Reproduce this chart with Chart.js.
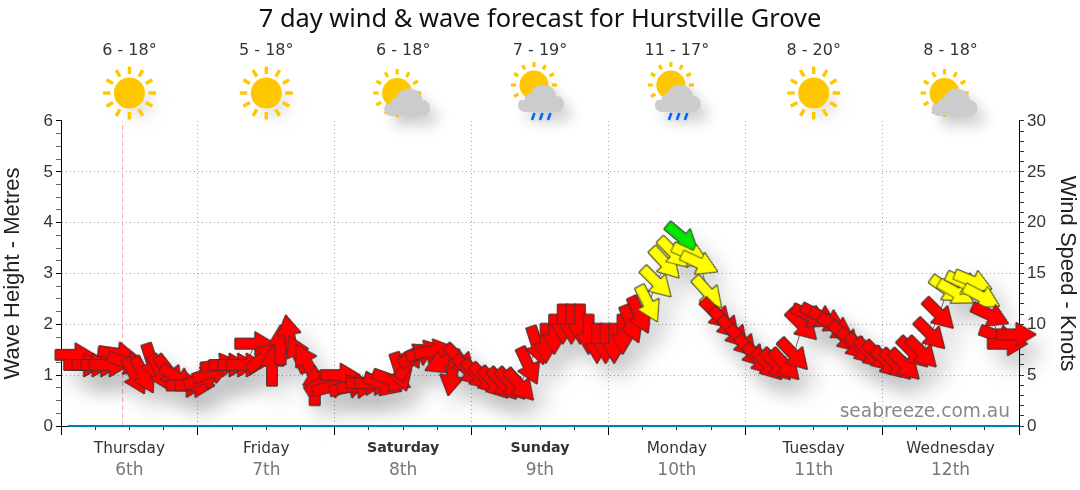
<!DOCTYPE html>
<html><head><meta charset="utf-8">
<script src="https://cdn.jsdelivr.net/npm/chart.js@4/dist/chart.umd.min.js"></script>
<style>html,body{margin:0;padding:0;background:#fff}canvas{display:block}</style>
</head><body><canvas id="c" width="1080" height="490"></canvas>
<script>
const titleText = "7 day wind & wave forecast for Hurstville Grove";
const dayNames = ["Thursday","Friday","Saturday","Sunday","Monday","Tuesday","Wednesday"];
const dayDates = ["6th","7th","8th","9th","10th","11th","12th"];
const dayBold = [false,false,true,true,false,false,false];
const tempLabels = ["6 - 18°","5 - 18°","6 - 18°","7 - 19°","11 - 17°","8 - 20°","8 - 18°"];
const iconTypes = ["sun","sun","cloud","rain","rain","sun","cloud"];
const noonHours = [12,36,60,84,108,132,156];
const dayHours = [0,24,48,72,96,120,144,168];
const nowHour = 10.8;
const waveHours = [1.2,168];
const waveMetres = [0,0];
const windHours = [2.5,4,5.5,7,8.5,10,11.5,13,14.5,16,17.5,19,20.5,22,23.5,25,26.5,28,29.5,31,32.5,34,35.5,37,38.5,40,41.5,43,44.5,46,47.5,49,50.5,52,53.5,55,56.5,58,59.5,61,62.5,64,65.5,67,68.5,70,71.5,73,74.5,76,77.5,79,80.5,82,83.5,85,86.5,88,89.5,91,92.5,94,95.5,97,98.5,100,101.5,103,104.5,106,107.5,109,110.5,112,113.5,115,116.5,118,119.5,121,122.5,124,125.5,127,128.5,130,131.5,133,134.5,136,137.5,139,140.5,142,143.5,145,146.5,148,149.5,151,152.5,154,155.5,157,158.5,160,161.5,163,164.5,166,167.5];
const windKnots = [7.0,6.0,6.0,6.0,6.0,7.1,6.2,4.9,5.0,6.2,5.2,5.3,4.7,4.0,4.0,4.7,5.3,6.0,6.0,6.0,6.0,8.1,6.8,5.9,8.0,9.0,7.1,6.3,4.0,4.4,3.9,5.0,3.9,3.9,4.2,4.2,4.1,4.5,5.3,6.3,7.0,7.3,7.4,6.3,4.9,6.5,5.4,5.0,4.6,4.2,4.1,4.1,4.0,5.9,7.9,8.1,9.0,10.0,10.0,10.0,9.0,8.1,8.1,8.1,9.0,10.0,10.9,12.0,14.1,16.0,17.0,18.5,16.8,16.0,13.1,11.0,10.1,9.2,8.3,7.3,6.5,6.0,6.0,6.0,7.0,9.9,10.8,10.8,10.4,9.7,8.7,8.0,7.5,7.1,6.8,6.2,6.0,6.0,7.2,7.2,9.0,11.0,13.4,13.1,14.0,14.2,12.7,10.9,8.8,8.1,9.0];
const windFromDeg = [270,270,270,270,270,278,290,332,332,342,332,322,302,270,270,250,250,262,270,270,270,270,230,180,180,170,155,150,180,238,255,270,255,265,270,270,290,290,342,212,242,255,260,65,10,315,315,315,315,318,318,318,318,335,342,0,0,0,0,0,0,0,0,0,0,338,335,333,315,317,315,310,295,295,318,315,317,318,318,318,317,317,317,317,317,315,295,298,298,302,315,315,315,315,315,315,315,315,315,315,315,315,305,300,295,292,298,295,290,270,270];

const FONT_TITLE = "'Noto Sans'";
const FONT_TXT = "'DejaVu Sans'";
const FONT_AX = "'Liberation Sans'";

function makeArrow(fill){
  const L=40,S=10.5,HW=24,HL=20,W=46,H=46;
  const c=document.createElement('canvas');c.width=W;c.height=H;
  const g=c.getContext('2d');g.translate(W/2,H/2);
  g.beginPath();
  g.moveTo(-L/2,-S/2);g.lineTo(L/2-HL,-S/2);g.lineTo(L/2-HL,-HW/2);g.lineTo(L/2,0);
  g.lineTo(L/2-HL,HW/2);g.lineTo(L/2-HL,S/2);g.lineTo(-L/2,S/2);g.closePath();
  g.fillStyle=fill;g.fill();g.lineWidth=0.8;g.strokeStyle='#333';g.stroke();
  return c;
}
const arrowRed=makeArrow('#ff0000'),arrowYellow=makeArrow('#ffff00'),arrowGreen=makeArrow('#00e600');
const arrowFor=k=>k>=18?arrowGreen:(k>=11.5?arrowYellow:arrowRed);
const windPoints=windHours.map((h,i)=>({x:h,y:windKnots[i]}));

function sun(g,x,y,r,r1,r2,w){
  g.fillStyle='#ffc800';g.beginPath();g.arc(x,y,r,0,Math.PI*2);g.fill();
  g.strokeStyle='#ffc800';g.lineWidth=w;
  for(let a=0;a<12;a++){const t=a*Math.PI/6;g.beginPath();
    g.moveTo(x+Math.cos(t)*r1,y+Math.sin(t)*r1);g.lineTo(x+Math.cos(t)*r2,y+Math.sin(t)*r2);g.stroke();}
}
function cloud(g,x,top){
  const b=top+27;
  g.fillStyle='#cccccc';g.beginPath();
  g.moveTo(x-16,b);
  g.arc(x-16,b-7,7,Math.PI*0.5,Math.PI*1.25);
  g.arc(x-10,b-12,6.5,Math.PI*1.0,Math.PI*1.5);
  g.arc(x+2,b-14,13.5,Math.PI*1.15,Math.PI*1.9);
  g.arc(x+15,b-8,8,Math.PI*1.5,Math.PI*0.5);
  g.closePath();g.fill();
}
const overlay={id:'overlay',
  beforeDatasetsDraw(chart){
    const g=chart.ctx,sx=chart.scales.x;
    iconTypes.forEach((t,i)=>{
      const x=sx.getPixelForValue(noonHours[i]);
      g.save();g.shadowColor='rgba(0,0,0,.1)';g.shadowBlur=14;g.shadowOffsetX=8;g.shadowOffsetY=10;
      if(t==='sun'){sun(g,x,93,15.5,19,26.5,3.4);}
      else if(t==='cloud'){sun(g,x-6,93,15,18.5,24,3.2);g.shadowColor='rgba(0,0,0,.18)';cloud(g,x+4,89);}
      else{sun(g,x-6,85,14.5,18,23,3.2);g.shadowColor='rgba(0,0,0,.18)';cloud(g,x+1,85);
        g.shadowColor='transparent';g.strokeStyle='#0066ff';g.lineWidth=2.6;
        [-7,1,9].forEach(dx=>{g.beginPath();g.moveTo(x+dx+1.5,113);g.lineTo(x+dx-1,120);g.stroke();});}
      g.restore();
    });
  },
  beforeDatasetDraw(chart,args){
    if(args.index===3){const g=chart.ctx;g.save();g.shadowColor='rgba(0,0,0,.17)';g.shadowBlur=24;g.shadowOffsetX=10;g.shadowOffsetY=14;}
  },
  afterDatasetDraw(chart,args){ if(args.index===3){chart.ctx.restore();} },
  afterDatasetsDraw(chart){
    const g=chart.ctx;g.save();g.font="18.6px "+FONT_TXT;g.fillStyle='#888';g.textAlign='right';g.textBaseline='alphabetic';
    g.fillText('seabreeze.com.au',1010,417);g.restore();
  }
};
const hiddenX=(extra)=>Object.assign({type:'linear',min:0,max:168,position:'bottom',
  border:{display:false},grid:{drawOnChartArea:false,drawTicks:false},
  ticks:{display:false}},extra);

new Chart(document.getElementById('c'),{
  type:'line',
  plugins:[overlay],
  data:{datasets:[
    {label:'Wind',data:windPoints,xAxisID:'x',yAxisID:'yWind',order:1,clip:false,
     borderColor:'#666',borderWidth:1,tension:0,pointRadius:6,
     pointStyle:c=>arrowFor(windKnots[c.dataIndex]),
     pointRotation:c=>windFromDeg[c.dataIndex]+90},
    {label:'Wave',data:waveHours.map((h,i)=>({x:h,y:waveMetres[i]})),xAxisID:'x',yAxisID:'y',order:0,clip:false,
     borderColor:'#007fb0',borderWidth:2,pointRadius:0,tension:0},
    {label:'Now',data:[{x:nowHour,y:0},{x:nowHour,y:6}],xAxisID:'x',yAxisID:'y',order:4,
     borderColor:'#ffaaaa',borderWidth:1,borderDash:[5,3],pointRadius:0},
    {label:'WindShadow',data:windPoints,xAxisID:'x',yAxisID:'yWind',order:3,clip:false,showLine:false,pointRadius:6,
     pointStyle:c=>arrowFor(windKnots[c.dataIndex]),
     pointRotation:c=>windFromDeg[c.dataIndex]+90}
  ]},
  options:{
    responsive:false,animation:false,events:[],
    layout:{padding:0},
    plugins:{legend:{display:false},tooltip:{enabled:false},
      title:{display:true,text:titleText,color:'#111',font:{family:FONT_TITLE,size:25.4,weight:'normal',lineHeight:1.2},padding:{top:5,bottom:4}}},
    scales:{
      x:{type:'linear',min:0,max:168,position:'bottom',weight:0,
        border:{display:true,color:'#000'},
        grid:{drawOnChartArea:false,drawTicks:true,tickLength:4,tickColor:'#333'},
        ticks:{stepSize:6,display:false,autoSkip:false},
        afterFit:s=>{s.height=0;}},
      xMajor:hiddenX({weight:1,
        border:{display:false,dash:[1,3]},
        grid:{drawOnChartArea:true,drawTicks:true,tickLength:9,color:'#aaa',tickColor:'#000',tickBorderDash:[]},
        afterBuildTicks:s=>{s.ticks=dayHours.map(v=>({value:v}));},
        afterFit:s=>{s.height=0;}}),
      xDay:hiddenX({weight:2,
        ticks:{display:true,autoSkip:false,maxRotation:0,padding:14,color:'#333',
          font:c=>({family:FONT_TXT,size:dayBold[c.index]?14.2:15.3,weight:dayBold[c.index]?'bold':'normal'}),
          callback:(v,i)=>dayNames[i]},
        afterBuildTicks:s=>{s.ticks=noonHours.map(v=>({value:v}));},
        afterFit:s=>{s.height=32;}}),
      xDate:hiddenX({weight:3,
        ticks:{display:true,autoSkip:false,maxRotation:0,padding:2,color:'#777',
          font:{family:FONT_TXT,size:17},callback:(v,i)=>dayDates[i]},
        afterBuildTicks:s=>{s.ticks=noonHours.map(v=>({value:v}));},
        afterFit:s=>{s.height=32;}}),
      xTemp:{type:'linear',min:0,max:168,position:'top',
        border:{display:false},grid:{drawOnChartArea:false,drawTicks:false},
        ticks:{autoSkip:false,maxRotation:0,padding:61,color:'#333',font:{family:FONT_TXT,size:16},callback:(v,i)=>tempLabels[i]},
        afterBuildTicks:s=>{s.ticks=noonHours.map(v=>({value:v}));},
        afterFit:s=>{s.height=121-39.5;}},
      y:{position:'left',min:0,max:6,
        border:{display:true,color:'#000',dash:[1,3]},
        title:{display:true,text:'Wave Height - Metres',color:'#222',font:{family:FONT_AX,size:22},padding:0},
        grid:{color:c=>(Number.isInteger(c.tick.value)&&c.tick.value<6)?'#aaa':'rgba(0,0,0,0)',
          tickColor:c=>Number.isInteger(c.tick.value)?'#000':'#666',tickLength:5,tickBorderDash:[]},
        ticks:{stepSize:0.25,autoSkip:false,padding:3,color:'#333',font:{family:FONT_AX,size:17},
          callback:v=>Number.isInteger(v)?String(v):''},
        afterFit:s=>{s.width=61;}},
      yWind:{position:'right',min:0,max:30,
        border:{display:true,color:'#000'},
        title:{display:true,text:'Wind Speed - Knots',color:'#222',font:{family:FONT_AX,size:22},padding:0},
        grid:{drawOnChartArea:false,tickLength:5,tickColor:'#333'},
        ticks:{stepSize:1,autoSkip:false,padding:3,color:'#333',font:{family:FONT_AX,size:17},
          callback:v=>v%5===0?String(v):''},
        afterFit:s=>{s.width=61;}}
    }
  }
});
</script></body></html>
